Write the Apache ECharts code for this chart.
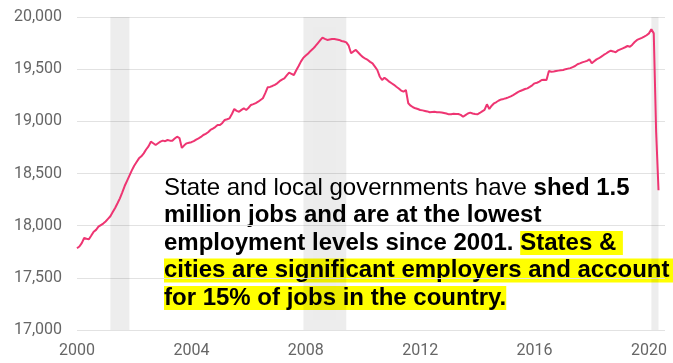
<!DOCTYPE html>
<html>
<head>
<meta charset="utf-8">
<script src="https://cdn.jsdelivr.net/npm/echarts@6/dist/echarts.min.js"></script>
<style>
  html, body { margin: 0; padding: 0; background: #ffffff; }
  #chart { width: 673px; height: 363px; }
</style>
</head>
<body>
<div id="chart"></div>
<script>
// State and local government employment, thousands, monthly from Jan 2000
const startYear = 2000;
const employment = [
  // 2000
  17783, 17800, 17833, 17882, 17875, 17870, 17905, 17942, 17960, 17990, 18005, 18020,
  // 2001
  18040, 18065, 18090, 18130, 18170, 18215, 18262, 18320, 18380, 18430, 18480, 18530,
  // 2002
  18575, 18610, 18645, 18665, 18693, 18730, 18760, 18805, 18790, 18773, 18790, 18805,
  // 2003
  18815, 18810, 18821, 18815, 18814, 18835, 18853, 18840, 18745, 18770, 18789, 18795,
  // 2004
  18800, 18810, 18825, 18837, 18850, 18869, 18880, 18895, 18917, 18930, 18945, 18965,
  // 2005
  18965, 18985, 19013, 19020, 19029, 19070, 19118, 19100, 19092, 19110, 19125, 19109,
  // 2006
  19130, 19157, 19165, 19175, 19188, 19205, 19221, 19270, 19326, 19330, 19339, 19350,
  // 2007
  19364, 19385, 19400, 19412, 19440, 19466, 19455, 19444, 19490, 19530, 19575, 19610,
  // 2008
  19630, 19650, 19675, 19695, 19720, 19748, 19775, 19802, 19790, 19780, 19785, 19789,
  // 2009
  19790, 19785, 19780, 19770, 19765, 19757, 19725, 19652, 19670, 19684, 19660, 19636,
  // 2010
  19615, 19600, 19588, 19570, 19556, 19525, 19492, 19430, 19396, 19418, 19400, 19380,
  // 2011
  19365, 19350, 19332, 19315, 19295, 19284, 19300, 19173, 19150, 19135, 19125, 19118,
  // 2012
  19109, 19105, 19100, 19095, 19087, 19090, 19092, 19088, 19087, 19085, 19080, 19075,
  // 2013
  19067, 19068, 19072, 19070, 19070, 19062, 19044, 19060, 19075, 19083, 19075, 19070,
  // 2014
  19067, 19080, 19095, 19109, 19163, 19118, 19150, 19173, 19185, 19200, 19210, 19215,
  // 2015
  19221, 19230, 19240, 19252, 19265, 19280, 19291, 19300, 19310, 19316, 19330, 19345,
  // 2016
  19364, 19370, 19380, 19396, 19398, 19396, 19482, 19476, 19478, 19482, 19486, 19490,
  // 2017
  19492, 19500, 19505, 19510, 19520, 19530, 19547, 19555, 19565, 19572, 19580, 19594,
  // 2018
  19556, 19575, 19594, 19605, 19620, 19636, 19650, 19665, 19677, 19670, 19662, 19680,
  // 2019
  19690, 19700, 19710, 19722, 19715, 19735, 19760, 19780, 19790, 19800, 19811, 19825,
  // 2020
  19843, 19882, 19843, 18900, 18340
];

// Recession periods (start month, end month)
const recessions = [
  ['2001-03', '2001-11'],
  ['2007-12', '2009-06'],
  ['2020-02', '2020-05']
];

const yTicks = [17000, 17500, 18000, 18500, 19000, 19500, 20000];
const xTicks = [2000, 2004, 2008, 2012, 2016, 2020];

function monthToYear(s) {
  const [y, m] = s.split('-').map(Number);
  return y + (m - 1) / 12;
}

const seriesData = employment.map((v, i) => [startYear + i / 12, v]);

const chart = echarts.init(document.getElementById('chart'), null, { renderer: 'canvas' });

chart.setOption({
  animation: false,
  backgroundColor: '#ffffff',
  grid: { left: 77, right: 8, top: 17, bottom: 33 },
  xAxis: {
    type: 'value',
    min: xTicks[0],
    max: 2020.56,
    interval: 4,
    axisLine: { show: false },
    axisTick: { show: false },
    splitLine: { show: false },
    axisLabel: {
      margin: 13,
      fontFamily: 'Roboto',
      fontSize: 16,
      color: '#666666',
      showMaxLabel: false,
      formatter: v => xTicks.includes(v) ? String(v) : ''
    }
  },
  yAxis: {
    type: 'value',
    min: yTicks[0],
    max: yTicks[yTicks.length - 1],
    interval: 500,
    axisLine: { show: false },
    axisTick: { show: false },
    splitLine: { lineStyle: { color: '#e2e2e2', width: 1 } },
    axisLabel: {
      margin: 15,
      fontFamily: 'Roboto',
      fontSize: 16,
      color: '#666666',
      formatter: v => v.toLocaleString('en-US')
    }
  },
  series: [{
    type: 'line',
    data: seriesData,
    showSymbol: false,
    lineStyle: { color: '#ee3572', width: 2 },
    markArea: {
      silent: true,
      itemStyle: {
        color: 'rgba(0,0,0,0.07)',
        shadowBlur: 8,
        shadowColor: 'rgba(0,0,0,0.07)'
      },
      data: recessions.map(([a, b]) => [{ xAxis: monthToYear(a) }, { xAxis: monthToYear(b) }])
    }
  }],
  graphic: [{
    type: 'text',
    left: 164,
    top: 176,
    silent: true,
    style: {
      text: [
        '{n|State and local governments have }{b|shed 1.5}',
        '{b|million jobs and are at the lowest}',
        '{b|employment levels since 2001. }{h|States & }',
        '{h|cities are significant employers and account }',
        '{h|for 15% of jobs in the country.}'
      ].join('\n'),
      rich: {
        n: { fontFamily: 'Liberation Sans, Arial', fontSize: 24, fontWeight: 'normal', color: '#333333', lineHeight: 27.5 },
        b: { fontFamily: 'Liberation Sans, Arial', fontSize: 24, fontWeight: 'bold', color: '#333333', lineHeight: 27.5 },
        h: { fontFamily: 'Liberation Sans, Arial', fontSize: 24, fontWeight: 'bold', color: '#333333', lineHeight: 27.5, backgroundColor: '#ffff00' }
      }
    }
  }]
});
</script>
</body>
</html>
